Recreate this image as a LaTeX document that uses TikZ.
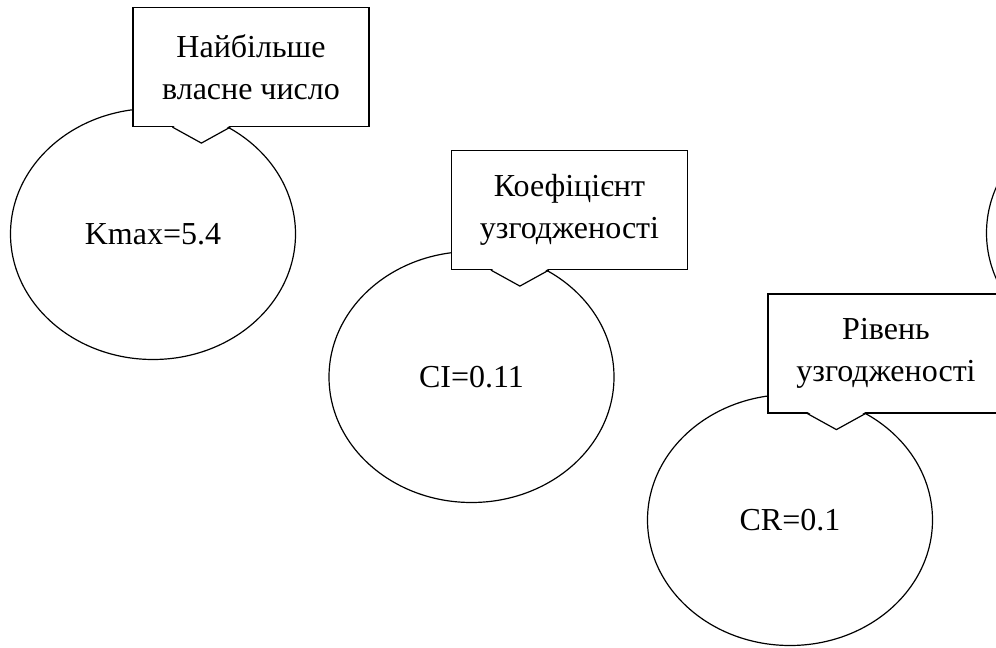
\documentclass[tikz,border=0pt]{standalone}
\usepackage{fontspec}
\setmainfont{Liberation Serif}
\usetikzlibrary{calc,shapes.geometric}
\newcommand{\notch}[1]{%
  \fill[white] ($(#1.south west)+(39.5,-2)$)--($(#1.south west)+(69,16)$)--($(#1.south west)+(98.5,-2)$)--cycle;
  \draw ($(#1.south west)+(40,0)$)--($(#1.south west)+(69,16)$)--($(#1.south west)+(98,0)$);}
\begin{document}
\begin{tikzpicture}[x=0.75pt,y=-0.75pt,line width=0.9pt,
	oval/.style={draw,ellipse,inner sep=0pt,minimum width=213.75pt,minimum height=188.25pt,font=\fontsize{24}{31.5}\selectfont},
	note/.style={draw,fill=white,align=center,inner sep=0pt,minimum width=177pt,minimum height=89.25pt,font=\fontsize{24}{31.5}\selectfont}]
	\path[use as bounding box,clip](0,0)rectangle(996,648);
	\node[oval](kmax)at(153,234){Kmax=5.4};
	\node[oval](ci)at(471.5,377){CI=0.11};
	\node[oval](cr)at(790,520){CR=0.1};
	\node[oval](next)at(1129,233){};
	\node[note](eigen)at(251,67){Найбільше\\власне число};
	\notch{eigen}
	\node[note](coef)at(569.5,210){Коефіцієнт\\узгодженості};
	\notch{coef}
	\node[note](level)at(886,353.5){Рівень\\узгодженості};
	\notch{level}
\end{tikzpicture}
\end{document}
